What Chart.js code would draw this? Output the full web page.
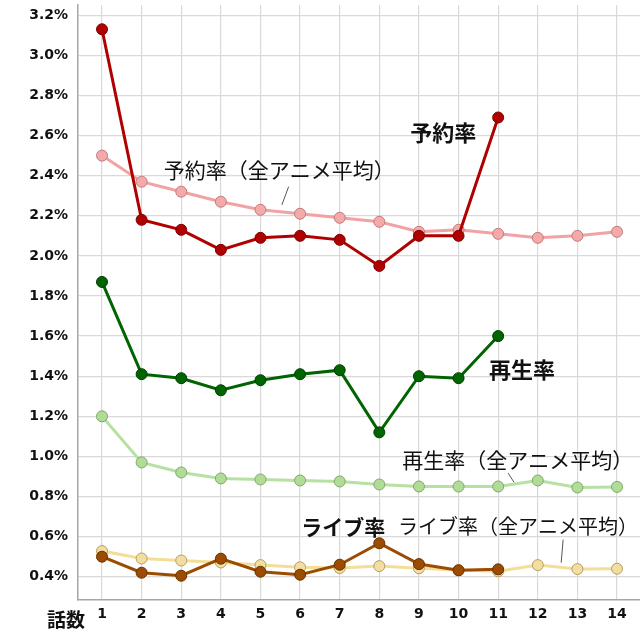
<!DOCTYPE html>
<html>
<head>
<meta charset="utf-8">
<script src="https://cdn.jsdelivr.net/npm/chart.js@4/dist/chart.umd.min.js"></script>
<style>
html,body{margin:0;padding:0;background:#fff;}
#wrap{width:640px;height:640px;position:relative;}
</style>
</head>
<body>
<div id="wrap"><canvas id="c" width="640" height="640"></canvas></div>
<script>
// Episodes (話数)
const episodes = [1,2,3,4,5,6,7,8,9,10,11,12,13,14];
// Values in percent
const reserveRate    = [3.13,2.18,2.13,2.03,2.09,2.10,2.08,1.95,2.10,2.10,2.69];
const reserveAvg     = [2.50,2.37,2.32,2.27,2.23,2.21,2.19,2.17,2.12,2.13,2.11,2.09,2.10,2.12];
const playRate       = [1.87,1.41,1.39,1.33,1.38,1.41,1.43,1.12,1.40,1.39,1.60];
const playAvg        = [1.20,0.97,0.92,0.89,0.885,0.88,0.875,0.86,0.85,0.85,0.85,0.88,0.845,0.848];
const liveRate       = [0.50,0.42,0.405,0.49,0.425,0.41,0.46,0.567,0.463,0.432,0.437];
const liveAvg        = [0.528,0.491,0.481,0.471,0.458,0.447,0.443,0.453,0.442,0.433,0.427,0.458,0.438,0.440];
const yTickValues    = [0.4,0.6,0.8,1.0,1.2,1.4,1.6,1.8,2.0,2.2,2.4,2.6,2.8,3.0,3.2];
const xAxisTitle     = '話数';
// Annotation texts
const labelTexts = ['予約率','予約率（全アニメ平均）','再生率','再生率（全アニメ平均）','ライブ率','ライブ率（全アニメ平均）'];
// Annotation anchor (left edge, vertical middle) in data units: [x, y]
const labelAnchors = [[8.78,2.613],[2.56,2.428],[10.77,1.435],[8.58,0.982],[6.03,0.650],[8.47,0.650]];
// Annotation fonts
const labelFonts = ['bold 22px','21px','bold 22px','21px','bold 21px','20px'];
// Leader lines: [x1,y1,x2,y2] in data units
const leaders = [
  [5.71, 2.345, 5.54, 2.254],
  [11.25, 0.917, 11.40, 0.871],
  [12.64, 0.585, 12.59, 0.470]
];

const pts = arr => arr.map((v,i)=>({x:episodes[i], y:v}));

function ds(label, arr, line, fill, border, order){
  return {
    label, data: pts(arr), borderColor: line, backgroundColor: fill,
    pointBackgroundColor: fill, pointBorderColor: border, pointBorderWidth: 1,
    pointRadius: 5.5, pointHoverRadius: 5.5, borderWidth: 3, tension: 0, order
  };
}

const annot = {
  id:'annot',
  afterDatasetsDraw(chart){
    const {ctx, scales:{x,y}} = chart;
    ctx.save();
    ctx.strokeStyle = '#555';
    ctx.lineWidth = 1;
    leaders.forEach(l=>{
      ctx.beginPath();
      ctx.moveTo(x.getPixelForValue(l[0]), y.getPixelForValue(l[1]));
      ctx.lineTo(x.getPixelForValue(l[2]), y.getPixelForValue(l[3]));
      ctx.stroke();
    });
    ctx.fillStyle = '#111';
    ctx.textBaseline = 'middle';
    ctx.textAlign = 'left';
    labelTexts.forEach((t,i)=>{
      ctx.font = labelFonts[i] + ' "Noto Sans CJK JP", sans-serif';
      ctx.fillText(t, x.getPixelForValue(labelAnchors[i][0]), y.getPixelForValue(labelAnchors[i][1]));
    });
    ctx.font = 'bold 19px "Noto Sans CJK JP", sans-serif';
    ctx.textAlign = 'center';
    ctx.fillText(xAxisTitle, 66, chart.chartArea.bottom + 20);
    ctx.restore();
  }
};

const gridCfg = {color:'#d9d9d9', lineWidth:1.2, borderDash:[3,1], drawTicks:false};

new Chart(document.getElementById('c'), {
  type:'line',
  data:{
    datasets:[
      ds('予約率', reserveRate, '#b00000', '#b00000', '#7a0000', 0),
      ds('再生率', playRate, '#006400', '#006400', '#003c00', 0),
      ds('ライブ率', liveRate, '#9c4c00', '#9c4c00', '#663000', 0),
      ds('予約率（全アニメ平均）', reserveAvg, '#f2a2a2', '#f4aaaa', '#c07a7a', 1),
      ds('再生率（全アニメ平均）', playAvg, '#b6e0a4', '#b0dc98', '#7ea868', 1),
      ds('ライブ率（全アニメ平均）', liveAvg, '#f2de96', '#f2dea2', '#b89e5e', 1)
    ]
  },
  options:{
    responsive:false, animation:false,
    layout:{autoPadding:false, padding:{top:5,right:0,left:0,bottom:0}},
    plugins:{legend:{display:false}, tooltip:{enabled:false}},
    scales:{
      x:{
        type:'linear', min:0.394, max:14.58,
        afterBuildTicks(s){ s.ticks = episodes.map(v=>({value:v})); },
        afterFit(s){ s.height = 40; s.paddingLeft = 0; s.paddingRight = 0; },
        grid:gridCfg,
        border:{display:true, color:'#a6a6a6', width:1.5},
        ticks:{padding:6, color:'#111', font:{family:'"DejaVu Sans"', size:14, weight:'bold'}, callback:v=>String(v)}
      },
      y:{
        type:'linear', min:0.284, max:3.251,
        afterBuildTicks(s){ s.ticks = yTickValues.map(v=>({value:v})); },
        afterFit(s){ s.width = 78; s.paddingTop = 0; s.paddingBottom = 0; },
        grid:gridCfg,
        border:{display:true, color:'#a6a6a6', width:1.5},
        ticks:{padding:10, color:'#111', font:{family:'"DejaVu Sans"', size:14, weight:'bold'}, callback:v=>v.toFixed(1)+'%'}
      }
    }
  },
  plugins:[annot]
});
</script>
</body>
</html>
